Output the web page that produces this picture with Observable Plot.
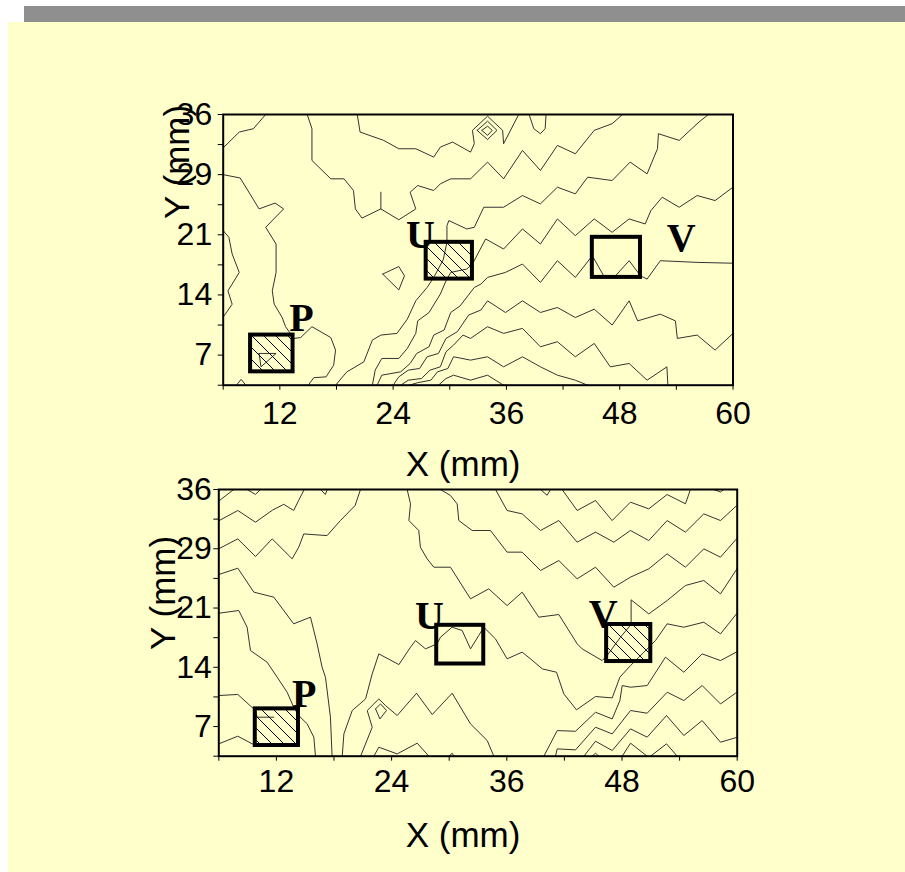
<!DOCTYPE html>
<html><head><meta charset="utf-8">
<script src="https://cdn.jsdelivr.net/npm/d3@7"></script>
<script src="https://cdn.jsdelivr.net/npm/@observablehq/plot@0.6"></script>
<style>
html,body{margin:0;padding:0;background:#fff;}
#page{position:relative;width:905px;height:872px;overflow:hidden;}
#bar{position:absolute;left:24px;top:6px;width:881px;height:16px;background:#8f8f8f;}
#bg{position:absolute;left:8px;top:22px;width:897px;height:850px;background:#ffffcc;}
.chart{position:absolute;left:0;}
</style></head><body>
<div id="page"><div id="bar"></div><div id="bg"></div>
<div id="top" class="chart" style="top:60px"></div>
<div id="bot" class="chart" style="top:460px"></div></div>
<script>
// ---- axes ----
const xDomain = [6, 60];
const yDomain = [3.6, 36];
const xMajorTicks = [12, 24, 36, 48, 60];
const xMinorTicks = [6, 18, 30, 42, 54];
const yTickValues = [7.2, 14.4, 21.6, 28.8, 36];
const yTickLabels = ["7", "14", "21", "29", "36"];
const yMinorTicks = [3.6, 10.8, 18, 25.2, 32.4];
const xTitle = "X (mm)";
const yTitle = "Y (mm)";

// ---- top map: contour lines (x mm, y mm) ----
const topLineA = [[6,32.0],[7.7,33.9],[9.2,34.3],[10.5,36]];
const topLineB = [[6,28.8],[7.8,28.4],[9.8,24.7],[11.5,25.4],[12.4,24.7],[10.5,22.5],[11.6,20.5],[11.6,17.1],[11.2,14.9],[11.4,13.3],[12.25,11.7],[12.6,10.6],[13.5,9.2],[14.2,9.3],[15.4,10.6],[17.4,9.3],[17.9,7.8],[17.7,6.0],[16.9,4.6],[15.6,4.5],[15.0,3.6]];
const topLineC = [[6,22.1],[6.6,21.3],[6.95,19.3],[7.7,17.1],[6.95,15.7],[6.5,14.9],[6.95,13.3],[6,11.75]];
const topLineD = [[7.4,3.6],[7.9,4.3],[8.4,3.6]];
const topLinePin = [[9.8,7.4],[11.6,7.4],[10.0,5.8],[9.8,7.4]];
const topLineE = [[14.9,36],[15.4,34.3],[15.4,30.5],[17.4,28.3],[18.8,28.3],[19.8,26.9],[20.0,24.7],[20.7,23.6],[22.7,24.7],[24.6,23.4],[26.4,24.7],[25.8,26.7],[26.6,27.5],[28.3,26.9],[29.0,27.7],[30.1,28.3],[32.2,28.3],[34.0,30.3],[35.7,28.3],[37.7,31.7],[39.6,29.3],[41.4,32.3],[43.3,31.3],[45.3,34.1],[47.2,34.9],[48.3,36]];
const topStub = [[22.7,26.7],[22.7,24.7]];
const topLineF = [[20.2,36],[20.5,33.9],[23.0,32.9],[24.6,31.9],[26.4,31.9],[28.3,30.9],[29.0,32.1],[30.3,32.7],[32.2,31.5],[32.6,32.5],[32.4,34.1],[34.0,35.8],[35.6,34.1],[35.7,32.5],[37.3,36]];
const topRing1 = [[32.9,34.1],[34.0,35.2],[35.0,34.1],[34.0,33.0],[32.9,34.1]];
const topRing2 = [[33.4,34.1],[34.0,34.6],[34.5,34.1],[34.0,33.5],[33.4,34.1]];
const topDip = [[38.4,36],[38.9,34.3],[39.6,33.7],[40.1,34.3],[40.2,36]];
const topIsland = [[22.9,16.9],[24.6,17.8],[25.2,16.7],[24.6,15.0],[22.9,16.9]];
const topLineG = [[17.9,3.6],[19.1,5.2],[20.9,6.4],[21.8,9.0],[22.7,9.6],[24.4,9.8],[25.5,11.5],[26.4,13.7],[27.6,15.3],[28.3,16.5],[29.3,18.6],[29.7,20.7],[29.7,22.7],[29.9,23.3],[31.8,22.3],[32.6,22.5],[33.6,24.9],[35.7,24.9],[37.7,26.3],[39.6,25.3],[41.4,27.3],[43.3,26.5],[44.6,28.5],[47.2,28.1],[49.1,30.3],[50.9,28.9],[52.0,31.9],[52.1,33.7],[54.3,32.9],[56.4,35.1],[57.4,36]];
const topLineH = [[21.8,3.6],[22.1,5.4],[22.8,6.8],[24.6,6.8],[25.5,8.0],[26.4,9.8],[26.6,11.3],[27.8,12.3],[29.0,14.5],[29.6,16.1],[30.1,17.1],[31.8,17.5],[32.4,18.1],[33.8,21.1],[35.7,19.9],[37.7,22.3],[39.6,20.5],[41.4,23.5],[43.3,21.5],[45.3,23.5],[47.2,21.9],[49.0,23.5],[50.7,22.9],[51.3,24.5],[52.5,26.1],[54.3,24.9],[56.2,26.3],[58.1,25.7],[60,27.3]];
const topLineI = [[22.3,3.6],[22.8,4.8],[24.8,5.2],[25.8,6.2],[26.5,7.4],[27.8,8.2],[28.3,9.6],[29.4,10.2],[30.1,12.3],[31.1,13.1],[32.6,15.3],[33.3,15.7],[34.0,16.5],[35.9,17.1],[37.7,18.1],[39.6,15.9],[41.4,18.5],[43.3,16.5],[45.1,19.1],[46.3,16.7],[47.4,16.5],[49.0,18.5],[50.2,16.7],[50.9,16.3],[52.3,18.5],[56.2,18.3],[60,18.2]];
const topLineJ = [[24.0,3.6],[24.6,4.6],[25.6,5.4],[26.8,5.6],[27.6,7.0],[28.8,7.4],[29.6,9.2],[30.8,10.0],[32.0,12.0],[33.3,12.6],[34.0,13.7],[35.9,12.3],[37.7,13.7],[39.6,12.3],[41.4,12.9],[43.3,11.7],[45.3,12.7],[47.2,10.8],[49.0,13.7],[49.9,11.3],[52.3,12.1],[53.9,11.3],[54.1,9.2],[56.2,9.6],[58.1,7.8],[60,9.8]];
const topLineK = [[24.8,3.6],[25.6,4.2],[27.0,4.4],[27.9,5.4],[29.0,5.8],[29.6,7.6],[30.4,8.4],[31.4,9.6],[32.2,9.2],[34.0,10.6],[35.7,9.8],[37.7,10.4],[39.6,8.2],[41.4,8.8],[43.3,7.0],[45.3,8.6],[47.0,5.8],[49.0,6.2],[50.9,4.2],[53.0,5.8],[53.1,3.6]];
const topLineL = [[25.7,3.6],[26.6,3.9],[28.0,4.2],[28.7,5.2],[29.8,5.6],[30.4,7.0],[32.2,6.6],[34.0,7.0],[35.7,5.8],[37.7,7.0],[39.6,5.8],[41.4,4.8],[43.3,4.2],[44.6,3.6]];
const topLineM = [[28.8,3.6],[29.6,4.4],[30.4,4.8],[32.2,4.2],[34.0,4.8],[35.7,3.6]];

const topBoxes = [
  {name: "P", x1: 8.9, x2: 13.4, y1: 5.2, y2: 9.6, hatched: true},
  {name: "U", x1: 27.5, x2: 32.4, y1: 16.3, y2: 20.7, hatched: true},
  {name: "V", x1: 45.1, x2: 50.2, y1: 16.5, y2: 21.3, hatched: false}
];
const topLabels = [
  {t: "P", x: 14.3, y: 11.6},
  {t: "U", x: 26.9, y: 21.5},
  {t: "V", x: 54.5, y: 21.2}
];

// ---- bottom map: contour lines ----
const botLineA = [[6,34.6],[7.56,36]];
const botDip1 = [[8.95,36],[9.82,35.4],[10.34,36]];
const botDip2 = [[16.6,36],[17.1,35.4],[17.3,36]];
const botLineC = [[6,32.2],[7.98,33.45],[9.82,32.03],[11.6,33.5],[12.77,34.2],[13.8,33.45],[14.33,34.7],[14.9,36]];
const botLineD = [[6,28.8],[7.98,30.0],[9.82,27.86],[11.56,30.0],[13.64,27.58],[14.33,29.0],[14.85,30.6],[17.28,30.4],[18.67,32.23],[20.2,34.06],[20.76,36]];
const botLineE = [[6,25.67],[7.98,26.44],[9.65,23.53],[11.73,22.92],[13.8,19.68],[15.55,20.49],[16.24,17.25],[16.76,14.41],[17.11,13.2],[17.63,8.34],[17.8,3.6]];
const botLineF = [[6,20.97],[8.08,21.3],[8.95,19.27],[9.3,16.44],[11.03,15.02],[12.08,13.2],[13.12,11.37],[13.8,9.55],[14.33,8.54],[15.2,7.53],[15.9,5.91],[16.07,3.6]];
const botLineG = [[6,10.97],[7.98,11.1],[9.82,9.15],[10.0,8.34],[11.73,8.34]];
const botLineH = [[6,5.1],[7.98,6.03],[9.82,4.89]];
const botLineI = [[25.62,36],[25.97,34.26],[25.8,32.23],[26.83,31.02],[27.0,28.99],[27.7,27.58],[28.4,26.56],[30.13,26.56],[32.22,22.72],[34.12,23.93],[36.03,21.9],[37.6,23.53],[39.33,20.49],[41.42,20.81],[43.33,17.25],[43.85,16.64],[45.93,15.22],[46.45,15.83],[47.84,18.06],[48.95,19.6],[48.95,22.6],[50.79,20.89],[52.7,22.51],[54.61,24.34],[56.52,24.94],[58.26,23.32],[60,26.4]];
const botLineJ = [[18.86,3.6],[19.03,6.31],[19.9,9.15],[21.29,10.56],[21.98,13.6],[22.67,16.03],[24.76,14.73],[25.97,16.84],[26.49,17.65],[27.53,16.64],[28.74,17.25],[29.09,18.06],[30.3,19.27],[31.35,18.87],[32.22,16.64],[33.08,18.27],[33.6,19.27],[34.82,17.85],[36.03,15.43],[37.6,16.24],[38.47,15.42],[39.7,14.21],[41.18,13.8],[41.94,11.17],[43.26,9.23],[45.24,10.85],[46.98,10.68],[47.78,13.2],[48.89,14.61],[50.28,16.23],[51.49,17.65],[52.7,19.68],[54.44,19.27],[56.52,19.88],[58.26,18.46],[60,21.0]];
const botLineK = [[20.77,3.6],[21.98,7.12],[21.46,9.15],[22.67,10.56],[23.37,9.75],[24.58,8.54],[26.6,11.25],[28.23,8.66],[30.31,11.25],[32.22,7.52],[33.96,5.5],[34.65,3.6]];
const botRing = [[22.33,9.35],[22.85,9.95],[23.47,9.15],[22.78,8.13],[22.33,9.35]];
const botLineL = [[22.15,3.6],[22.67,4.69],[24.58,3.88],[26.67,5.18],[27.88,3.6]];
const botLineM = [[29.97,3.6],[30.31,3.96],[30.49,3.6]];
const botLineN = [[29.09,36],[30.13,35.27],[30.83,34.26],[31.0,32.23],[32.39,31.02],[34.3,31.02],[36.03,28.39],[37.6,28.39],[39.51,26.16],[41.42,27.37],[43.33,25.15],[45.24,26.56],[47.15,24.13],[48.88,25.35],[50.79,26.36],[52.7,28.18],[54.61,26.56],[56.52,28.79],[58.26,27.78],[60,30.1]];
const botLineO = [[34.82,36],[36.03,33.45],[37.6,33.04],[39.51,31.02],[41.42,32.23],[43.33,29.6],[45.24,30.82],[47.15,29.6],[48.88,31.02],[50.79,29.8],[52.7,32.23],[54.61,30.82],[56.52,33.04],[58.26,32.23],[60,34.1]];
const botLineP = [[41.76,36],[43.33,33.45],[45.24,34.66],[46.97,32.23],[48.88,34.46],[50.79,33.65],[52.7,35.39],[54.61,34.26],[55.13,36]];
const botDip3 = [[39.51,36],[40.2,35.3],[40.55,36]];
const botDip4 = [[57.56,36],[58.26,35.7],[58.6,36]];
const botLineQ = [[39.86,3.6],[41.25,6.71],[43.16,6.63],[45.24,8.94],[46.98,8.13],[47.78,10.36],[48.02,12.18],[48.89,11.98],[50.62,12.18],[52.53,15.63],[54.44,13.8],[56.35,16.03],[58.26,15.22],[60,16.3]];
const botLineR = [[41.07,3.6],[41.25,4.49],[43.16,4.37],[45.24,7.12],[46.98,6.31],[48.89,9.15],[50.62,8.82],[52.71,11.37],[54.44,10.36],[56.35,12.18],[58.26,9.95],[60,11.4]];
const botLineS = [[44.03,3.6],[45.24,5.42],[46.98,4.29],[48.89,6.92],[50.62,5.91],[52.64,8.54],[54.44,6.11],[56.35,7.93],[58.26,5.3],[60,5.9]];
const botBump1 = [[44.89,3.6],[45.24,3.96],[45.59,3.6]];
const botBump2 = [[48.02,3.6],[48.89,5.18],[50.62,3.6]];
const botBump3 = [[50.97,3.6],[52.64,5.1],[53.75,3.6]];

const botBoxes = [
  {name: "P", x1: 9.8, x2: 14.3, y1: 4.9, y2: 9.35, hatched: true},
  {name: "U", x1: 28.7, x2: 33.6, y1: 14.8, y2: 19.5, hatched: false},
  {name: "V", x1: 46.4, x2: 51.0, y1: 15.1, y2: 19.6, hatched: true}
];
const botLabels = [
  {t: "P", x: 14.9, y: 11.1},
  {t: "U", x: 27.95, y: 20.6},
  {t: "V", x: 46.05, y: 20.8}
];

const topLines = [topLineA, topLineB, topLineC, topLineD, topLinePin, topLineE, topStub, topLineF, topRing1, topRing2, topDip, topIsland, topLineG, topLineH, topLineI, topLineJ, topLineK, topLineL, topLineM];
const botLines = [botLineA, botDip1, botDip2, botLineC, botLineD, botLineE, botLineF, botLineG, botLineH, botLineI, botLineJ, botLineK, botRing, botLineL, botLineM, botLineN, botLineO, botLineP, botDip3, botDip4, botLineQ, botLineR, botLineS, botBump1, botBump2, botBump3];

function rows(lines) {
  return lines.flatMap((pts, i) => pts.map(([x, y]) => ({x, y, id: i})));
}

const SANS = "'Liberation Sans', Arial, sans-serif";
const SERIF = "'Liberation Serif', 'Times New Roman', serif";

function build(cfg) {
  const plot = Plot.plot({
    width: 905,
    height: cfg.height,
    marginTop: cfg.mt, marginBottom: cfg.mb, marginLeft: cfg.ml, marginRight: cfg.mr,
    style: {background: "transparent", color: "black", fontFamily: SANS, overflow: "visible"},
    x: {domain: xDomain},
    y: {domain: yDomain},
    marks: [
      Plot.line(rows(cfg.lines), {x: "x", y: "y", z: "id", stroke: "#333", strokeWidth: 1}),
      Plot.rect(cfg.boxes.filter(d => d.hatched), {x1: "x1", x2: "x2", y1: "y1", y2: "y2", fill: `url(#${cfg.hatchId})`}),
      Plot.rect(cfg.boxes, {x1: "x1", x2: "x2", y1: "y1", y2: "y2", fill: "none", stroke: "black", strokeWidth: 4}),
      Plot.text(cfg.labels, {x: "x", y: "y", text: "t", fontFamily: SERIF, fontWeight: "bold", fontSize: 40, fill: "black"}),
      Plot.frame({stroke: "black", strokeWidth: 2}),
      Plot.axisX({ticks: xMajorTicks, tickSize: 5, tickPadding: cfg.xPad, fontSize: 32, label: null}),
      Plot.axisX({ticks: xMinorTicks, tickSize: 5, tickFormat: () => "", label: null}),
      Plot.axisY({ticks: yTickValues, tickSize: 5, tickPadding: cfg.yPad, fontSize: 32, label: null,
                  tickFormat: d => yTickLabels[yTickValues.indexOf(d)]}),
      Plot.axisY({ticks: yMinorTicks, tickSize: 5, tickFormat: () => "", label: null}),
      Plot.text([xTitle], {frameAnchor: "bottom", dx: -15, dy: cfg.xLabDy, fontSize: 35, lineAnchor: "middle", fill: "black"}),
      Plot.text([yTitle], {frameAnchor: "left", rotate: -90, dx: cfg.yLabDx, dy: cfg.yLabDy, fontSize: 35, lineAnchor: "middle", textAnchor: "middle", fill: "black"})
    ]
  });
  const defs = d3.select(plot).insert("defs", ":first-child");
  defs.append("pattern").attr("id", cfg.hatchId).attr("patternUnits", "userSpaceOnUse")
    .attr("width", 12).attr("height", 12)
    .append("path").attr("d", "M-1,11 l2,2 M0,0 l12,12 M11,-1 l2,2")
    .attr("stroke", "black").attr("stroke-width", 1);
  return plot;
}

document.getElementById("top").appendChild(build({
  lines: topLines, boxes: topBoxes, labels: topLabels, hatchId: "hatchTop",
  height: 450, mt: 54, mb: 125.3, ml: 222.7, mr: 172.5,
  xPad: 11, yPad: 6, xLabDy: 80, yLabDx: -45, yLabDy: -88
}));
document.getElementById("bot").appendChild(build({
  lines: botLines, boxes: botBoxes, labels: botLabels, hatchId: "hatchBot",
  height: 412, mt: 29, mb: 116.3, ml: 218.3, mr: 168.3,
  xPad: 8, yPad: 2, xLabDy: 80, yLabDx: -55, yLabDy: -30
}));
</script>
</body></html>
